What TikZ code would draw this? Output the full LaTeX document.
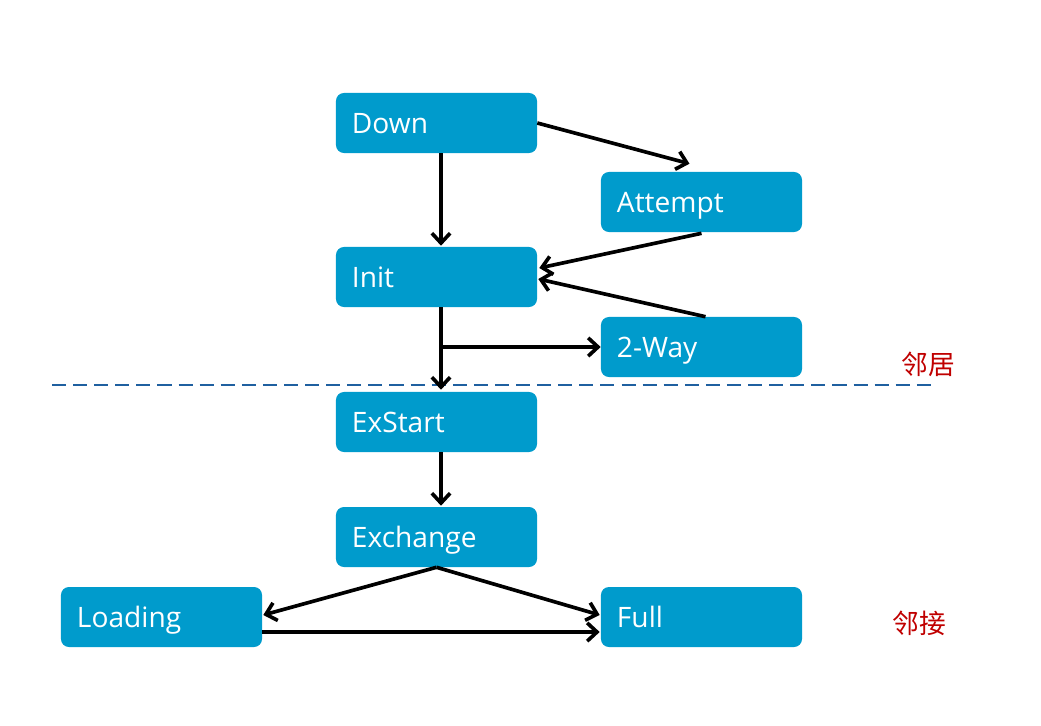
\documentclass[tikz,border=0pt]{standalone}
\usepackage{fontspec}
\setmainfont{Open Sans}
\newfontfamily\cjk{Noto Sans CJK SC}
\usetikzlibrary{arrows.meta}
\definecolor{boxblue}{RGB}{0,155,204}
\definecolor{linkred}{RGB}{192,0,0}
\definecolor{dashblue}{RGB}{31,96,160}

\begin{document}
\begin{tikzpicture}[x=0.025cm, y=-0.025cm,
    stbox/.style={rectangle, rounded corners=0.2cm, fill=boxblue, text=white,
      minimum width=5.025cm, minimum height=1.5cm, text width=4.225cm,
      text height=17pt, text depth=2.7pt,
      inner xsep=0.4cm, align=left, font=\fontsize{20}{24}\selectfont},
    link/.style={-{Straight Barb[length=7pt, width=13pt]}, line width=2.6pt},
    note/.style={text=linkred, font=\cjk\fontsize{19}{21}\selectfont}]
    \useasboundingbox (0,0) rectangle (1041,725);

    % States
    \node[stbox] (down) at (436.5,123) {Down};
    \node[stbox] (attempt) at (701.5,202) {Attempt};
    \node[stbox] (init) at (436.5,277) {Init};
    \node[stbox] (twoway) at (701.5,347) {2-Way};
    \node[stbox] (exstart) at (436.5,422) {ExStart};
    \node[stbox] (exchange) at (436.5,537) {Exchange};
    \node[stbox] (loading) at (161.5,617) {Loading};
    \node[stbox] (full) at (701.5,617) {Full};

    % Separator and notes
    \draw[dashblue, line width=1.4pt, dash pattern=on 10pt off 5pt] (52,385) -- (932,385);
    \node[note] (nbr) at (928,364) {邻居};
    \node[note] (adj) at (919,623) {邻接};

    % Transitions
    \draw[link] (down.east) -- ([shift={(-12,-8)}]attempt.north);
    \draw[link] ([shift={(4.5,0)}]down.south) -- ([shift={(4.5,-1)}]init.north);
    \draw[link] ([shift={(0,1)}]attempt.south) -- ([shift={(2,-9)}]init.east);
    \draw[link] ([shift={(4,0)}]twoway.north) -- ([shift={(1,2)}]init.east);
    \draw[link] ([shift={(4.5,0)}]init.south) -- ([shift={(4.5,-2)}]exstart.north);
    \draw[link] ([shift={(4.5,0)}]init.south |- twoway.west) -- (twoway.west);
    \draw[link] ([shift={(4.5,0)}]exstart.south) -- ([shift={(4.5,-1)}]exchange.north);
    \draw[link] (exchange.south) -- ([shift={(1,-2)}]loading.east);
    \draw[link] (exchange.south) -- ([shift={(-1,-2)}]full.west);
    \draw[link] ([shift={(0,15)}]loading.east) -- ([shift={(-1,15)}]full.west);
\end{tikzpicture}
\end{document}
